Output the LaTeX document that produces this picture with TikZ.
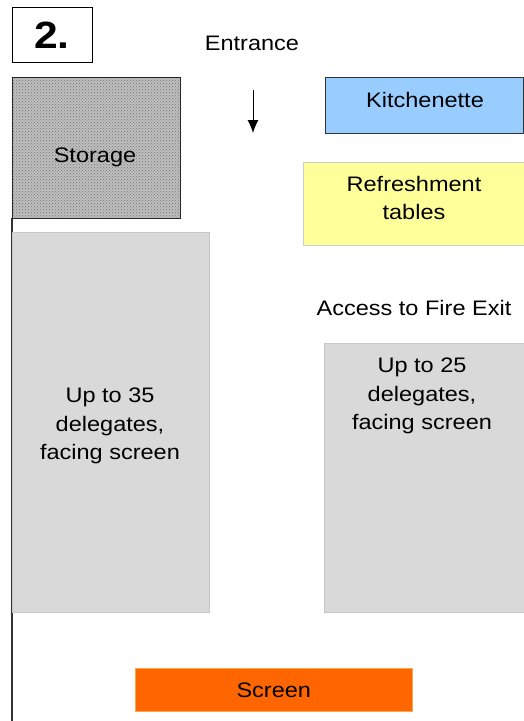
\documentclass[tikz,border=0pt]{standalone}
\usepackage{fontspec}
\setmainfont{Liberation Sans}[FakeStretch=1.12]
\usetikzlibrary{patterns,arrows.meta}
\definecolor{kitchblue}{HTML}{99CCFF}
\definecolor{refyellow}{HTML}{FFFF99}
\definecolor{seatgray}{HTML}{D9D9D9}
\definecolor{screenorange}{HTML}{FF6600}
\tikzset{
  lbl/.style={font=\fontsize{21}{28.5}\selectfont, align=center, inner sep=0pt},
  area/.style={anchor=north west, inner sep=0pt, line width=1.2pt}
}
\begin{document}
\begin{tikzpicture}[x=1pt, y=-1pt]
	\useasboundingbox[fill=white] (0, 0) rectangle (524, 721);
	% room number
	\node[area, draw, minimum width=80pt, minimum height=55pt] (num) at (12, 7) {};
	\node[font=\bfseries\fontsize{38}{38}\selectfont] (numtxt) at (52, 35) {2.};
	
	% entrance
	\node[lbl] (entrance) at (252, 43) {Entrance};
	\coordinate (doorA) at (253, 90);
	\coordinate (doorB) at (253, 133);
	\draw[-{Latex[length=13pt, width=11pt]}, line width=1pt] (doorA) -- (doorB);
	
	% wall
	\coordinate (wallbot) at (12, 721);
	\draw[line width=1.5pt, black!80] (12, 218) -- (wallbot);
	
	% storage
	\node[area, draw=black!85, preaction={fill=black!25}, pattern=crosshatch dots, pattern color=black!55, minimum width=168pt, minimum height=141pt] (storage) at (12, 77) {};
	\node[lbl] (storetxt) at (95, 157) {Storage};
	
	% kitchen and refreshments
	\node[area, draw=black!80, fill=kitchblue, minimum width=198pt, minimum height=56pt] (kitchen) at (325, 77) {};
	\node[lbl] (kitchtxt) at (425, 100) {Kitchenette};
	\node[area, draw=black!20, fill=refyellow, minimum width=221pt, minimum height=83pt] (refresh) at (303, 162) {};
	\node[lbl] (refrtxt) at (414, 198) {Refreshment\\tables};
	
	\node[lbl] (fire) at (414, 308) {Access to Fire Exit};
	
	% seating
	\node[area, draw=black!22, line width=0.8pt, fill=seatgray, minimum width=197pt, minimum height=380pt] (seatL) at (12, 232) {};
	\node[lbl] (seatLtxt) at (110, 426) {Up to 35\\delegates,\\facing screen};
	\node[area, draw=black!22, line width=0.8pt, fill=seatgray, minimum width=200pt, minimum height=269pt] (seatR) at (324, 343) {};
	\node[lbl] (seatRtxt) at (422, 396) {Up to 25\\delegates,\\facing screen};
	
	% screen
	\node[area, draw=orange!70, line width=0.6pt, fill=screenorange, minimum width=277pt, minimum height=43pt] (screen) at (135, 668) {};
	\node[lbl] (scrtxt) at (screen.center) {Screen};
\end{tikzpicture}
\end{document}
